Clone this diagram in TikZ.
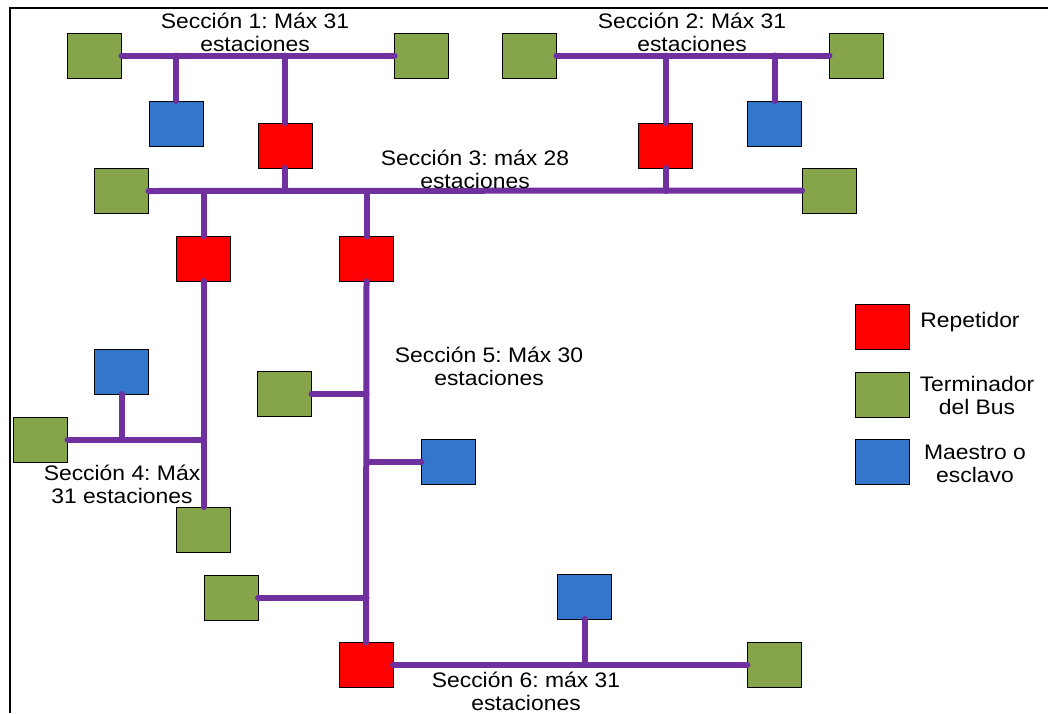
\documentclass[tikz,border=0pt]{standalone}
\usepackage{fontspec}
\setmainfont{Liberation Sans}
\frenchspacing
\begin{document}
\begin{tikzpicture}[x=1pt,y=-1pt,
  dev/.style={draw=black, line width=0.8pt, minimum width=54pt, minimum height=45pt, inner sep=0pt, outer sep=0pt},
  rep/.style={dev, fill=repred},
  term/.style={dev, fill=termgreen},
  mst/.style={dev, fill=mstblue},
  bus/.style={draw=buspurple, line width=6pt, line cap=round},
  lbl/.style={font=\fontsize{21}{23}\selectfont, align=center, inner sep=0pt, xscale=1.09, transform shape}
]
\definecolor{repred}{HTML}{FF0000}
\definecolor{termgreen}{HTML}{86A44A}
\definecolor{mstblue}{HTML}{3476CC}
\definecolor{buspurple}{HTML}{7030A0}
\useasboundingbox (0,0) rectangle (1048,713);
\fill[white] (0,0) rectangle (1048,713);
\draw[line width=2pt] (10,713) -- (10,7.7) -- (1048,7.7);

% devices
\node[term] (g1) at (94.5,55.5) {};
\node[term] (g2) at (421.5,55.5) {};
\node[mst]  (b1) at (176,123.5) {};
\node[rep]  (r1) at (285,145.5) {};
\node[term] (g4) at (529.5,55.5) {};
\node[term] (g5) at (856.5,55.5) {};
\node[rep]  (r2) at (665.5,145.5) {};
\node[mst]  (b2) at (774.5,123.5) {};
\node[term] (g3) at (121.5,191) {};
\node[term] (g6) at (829,190.5) {};
\node[rep]  (r3) at (203.5,258.5) {};
\node[rep]  (r4) at (366.5,259) {};
\node[term] (g7) at (203.5,529.5) {};
\node[term] (g8) at (40.5,439.5) {};
\node[mst]  (b3) at (121.5,371.5) {};
\node[term] (g9) at (284.5,394) {};
\node[mst]  (b4) at (448.5,461.5) {};
\node[term] (g10) at (231,597.5) {};
\node[rep]  (r5) at (366,665) {};
\node[mst]  (b5) at (584.5,596.5) {};
\node[term] (g11) at (774.5,665) {};

% legend
\node[rep]  (lr) at (882.5,326.5) {};
\node[term] (lg) at (882.5,394.5) {};
\node[mst]  (lb) at (882.5,461.5) {};
\node[lbl] (tlr) at (970,322) {Repetidor};
\node[lbl] (tlg) at (977,395) {Terminador\\del Bus};
\node[lbl] (tlb) at (975,464) {Maestro o\\esclavo};

% bus lines
\draw[bus] (g1.east) -- (g2.west);
\draw[bus] (b1.north) -- (b1.north |- g1.east);
\draw[bus] (r1.north) -- (r1.north |- g1.east);
\draw[bus] (g4.east) -- (g5.west);
\draw[bus] (r2.north) -- (r2.north |- g4.east);
\draw[bus] (b2.north) -- (b2.north |- g4.east);
\draw[bus] (g3.east) -- (g6.west);
\draw[bus] (r1.south) -- (r1.south |- g3.east);
\draw[bus] (r2.south) -- (r2.south |- g3.east);
\draw[bus] (r3.north) -- (r3.north |- g3.east);
\draw[bus] (r4.north) -- (r4.north |- g3.east);
% section 4
\coordinate (s4j) at (r3.south |- g8.east);
\draw[bus] (r3.south) -- (g7.north);
\draw[bus] (g8.east) -- (s4j);
\draw[bus] (b3.south) -- (b3.south |- g8.east);
% section 5
\draw[bus] (r4.south) -- (r5.north);
\draw[bus] (g9.east) -- (g9.east -| r4.south);
\draw[bus] (b4.west) -- (b4.west -| r4.south);
\draw[bus] (g10.east) -- (g10.east -| r4.south);
% section 6
\draw[bus] (r5.east) -- (g11.west);
\draw[bus] (b5.south) -- (b5.south |- r5.east);

% section labels
\node[lbl] (s1) at (255,32.5) {Sección 1: Máx 31\\estaciones};
\node[lbl] (s2) at (692,32.5) {Sección 2: Máx 31\\estaciones};
\node[lbl] (s3) at (475,169) {Sección 3: máx 28\\estaciones};
\node[lbl] (s4) at (122,484) {Sección 4: Máx\\31 estaciones};
\node[lbl] (s5) at (489,366.5) {Sección 5: Máx 30\\estaciones};
\node[lbl] (s6) at (526,691.5) {Sección 6: máx 31\\estaciones};
\end{tikzpicture}
\end{document}
